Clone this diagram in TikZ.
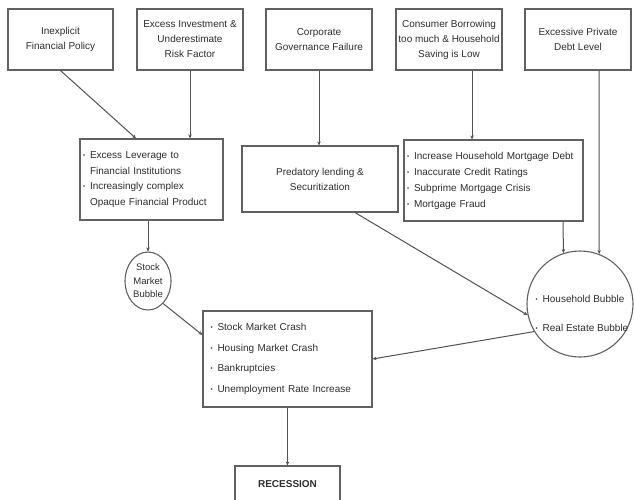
\documentclass[tikz,border=0pt]{standalone}
\usepackage{fontspec}
\setmainfont{Liberation Sans}
\usetikzlibrary{arrows.meta,shapes.geometric}
\newcommand{\bul}{\makebox[7pt][l]{\raisebox{1pt}{\fontsize{6}{6}\selectfont\textbullet}}}
\newcommand{\ind}{\hspace*{7pt}}
\begin{document}
\begin{tikzpicture}[x=1pt,y=-1pt,
  box/.style={draw=black!62, line width=1.1pt, fill=white, inner sep=0pt, align=center,
    text=black!82, font=\fontsize{10}{15}\selectfont},
  topbox/.style={box, minimum width=106pt, minimum height=61pt},
  listbox/.style={box, align=left, inner xsep=0pt},
  arr/.style={draw=black!68, line width=1pt, -{Stealth[length=4pt,width=3.5pt]}},
]
\useasboundingbox (0,0) rectangle (634,499);
\fill[white] (0,0) rectangle (634,499);
\clip (0,0) rectangle (634,499);

% top row
\node[topbox, minimum width=105pt] (t1) at (60.5,39.5) {Inexplicit\\Financial Policy};
\node[topbox] (t2) at (190,39.5) {Excess Investment \&\\Underestimate\\Risk Factor};
\node[topbox] (t3) at (319,39.5) {Corporate\\Governance Failure};
\node[topbox] (t4) at (449,39.5) {Consumer Borrowing\\too much \& Household\\Saving is Low};
\node[topbox] (t5) at (578,39.5) {Excessive Private\\Debt Level};

% middle row
\node[listbox, text width=137pt, minimum height=81pt, inner xsep=3pt, font=\fontsize{10}{15.5}\selectfont] (A) at (151.5,179.5)
  {\bul Excess Leverage to\\\ind Financial Institutions\\\bul Increasingly complex\\\ind Opaque Financial Product};
\node[box, minimum width=156pt, minimum height=66pt] (B) at (320,179) {Predatory lending \&\\Securitization};
\node[listbox, text width=173pt, minimum height=81pt, inner xsep=3pt, font=\fontsize{10}{16}\selectfont] (C) at (493.5,180.5)
  {\bul Increase Household Mortgage Debt\\\bul Inaccurate Credit Ratings\\\bul Subprime Mortgage Crisis\\\bul Mortgage Fraud};

% bubbles
\node[box, ellipse, minimum width=46pt, minimum height=58pt, font=\fontsize{9.5}{13.5}\selectfont] (S) at (148,281) {Stock\\Market\\Bubble};
\node[box, circle, minimum size=106pt] (H) at (580,304) {};
\node[align=left, text=black!82, font=\fontsize{10}{29}\selectfont, inner sep=0pt] (Ht) at (582,313.5)
  {\bul Household Bubble\\\bul Real Estate Bubble};

% consequences
\node[listbox, text width=154pt, minimum height=96pt, inner xsep=7.5pt, font=\fontsize{10}{20.7}\selectfont] (D) at (287.5,359)
  {\bul Stock Market Crash\\\bul Housing Market Crash\\\bul Bankruptcies\\\bul Unemployment Rate Increase};
\node[box, minimum width=105pt, minimum height=36pt, font=\bfseries\fontsize{10}{12}\selectfont] (R) at (287.5,484) {RECESSION};

% connectors
\draw[arr] (t1.south) -- ([xshift=-15.5pt]A.north);
\draw[arr] (t2.south) -- (t2.south |- A.north);
\draw[arr] (t3.south) -- (t3.south |- B.north);
\draw[arr] ([xshift=23pt]t4.south) -- ([xshift=23pt]t4.south |- C.north);
\draw[arr] ([xshift=21pt]t5.south) -- (H.69);
\draw[arr] ([xshift=69.5pt]C.south) -- (H.108.7);
\draw[arr] ([xshift=35pt]B.south) -- (H.192);
\draw[arr] (S.north |- A.south) -- (S.north);
\draw[arr] (S.-56) -- ([yshift=24pt]D.west);
\draw[arr] (H.211) -- (D.east);
\draw[arr] (D.south) -- (R.north);
\end{tikzpicture}
\end{document}
